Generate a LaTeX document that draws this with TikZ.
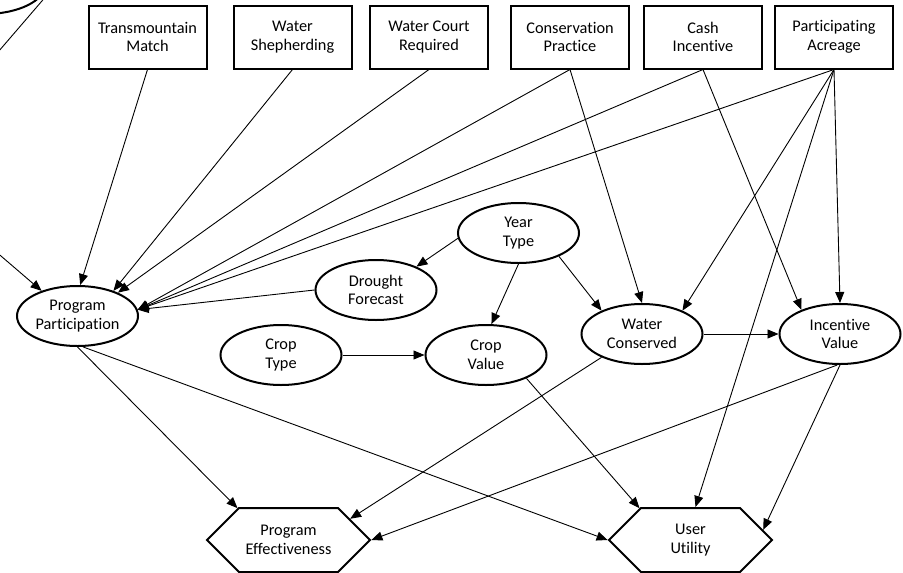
\documentclass[tikz,border=0pt]{standalone}
\usepackage{fontspec}
\setmainfont{Carlito}[Ligatures=NoCommon]
\usetikzlibrary{shapes.geometric,shapes.symbols,arrows.meta}

\begin{document}
\begin{tikzpicture}[x=1pt, y=-1pt,
    nodetext/.style={align=center, font=\fontsize{16.3}{18.5}\selectfont},
    decision/.style={nodetext, draw, line width=2pt, rectangle,
      minimum width=118pt, minimum height=63pt},
    chance/.style={nodetext, draw, line width=2pt, ellipse, inner sep=0pt,
      minimum width=121pt, minimum height=60pt},
    utility/.style={nodetext, draw, line width=2pt, signal,
      signal to=east and west, signal from=nowhere,
      minimum width=163pt, minimum height=64pt},
    link/.style={line width=0.9pt, -{Triangle[length=11pt,width=9pt]}}]
\useasboundingbox (0,0) rectangle (903,573);

%%% decisions %%%
      \node[decision] (tm)  at (147.5,37) {Transmountain\\Match};
      \node[decision] (ws)  at (292.5,37) {Water\\Shepherding};
      \node[decision] (wcr) at (429,37)   {Water Court\\Required};
      \node[decision] (cp)  at (570,37)   {Conservation\\Practice};
      \node[decision] (ci)  at (703,37)   {Cash\\Incentive};
      \node[decision] (pa)  at (834,37)   {Participating\\Acreage};

%%% chance nodes %%%
      \node[chance] (cut)  at (-15,-16)  {};
      \node[chance] (pp)   at (77.5,316) {Program\\Participation};
      \node[chance] (df)   at (376,290)  {Drought\\Forecast};
      \node[chance] (ct)   at (281,355)  {Crop\\Type};
      \node[chance] (cv)   at (486,355)  {Crop\\Value};
      \node[chance] (yt)   at (518.5,233) {Year\\Type};
      \node[chance] (wcon) at (642,334)  {Water\\Conserved};
      \node[chance] (iv)   at (840,334)  {Incentive\\Value};

%%% utilities %%%
      \node[utility] (pe) at (288.5,540) {Program\\Effectiveness};
      \node[utility] (uu) at (690.5,540) {User\\Utility};

%%% links %%%
      \coordinate (offtop)  at (60,-20);
      \coordinate (offleft) at (-20,73);
      \coordinate (offin)   at (-20,238);
      \draw[line width=0.9pt] (offtop) -- (offleft);
      \draw[link] (offin) -- (pp.145);

      \draw[link] (tm.south)  -- (pp.85);
      \draw[link] (ws.south)  -- (pp.35);
      \draw[link] (wcr.south) -- (pp.30);
      \foreach \src in {cp,ci,pa}
        \draw[link] (\src.south) -- (pp.6);
      \draw[link] (df.west) -- (pp.6);

      \draw[link] (yt.185) -- (df.30);
      \draw[link] (yt.south) -- (cv.80);
      \draw[link] (yt.-30) -- (wcon.150);
      \draw[link] (cp.south) -- (wcon.north);
      \draw[link] (pa.south) -- (wcon.30);
      \draw[link] (ci.south) -- (iv.148);
      \draw[link] (pa.south) -- (iv.north);
      \draw[link] (wcon.east) -- (iv.west);
      \draw[link] (ct.east) -- (cv.west);

      \draw[link] (pp.south) -- (pe.148);
      \draw[link] (pp.-80) -- (uu.west);
      \draw[link] (wcon.210) -- (pe.19);
      \draw[link] (iv.-95) -- (pe.east);
      \draw[link] (cv.-30) -- (uu.148);
      \draw[link] (pa.south) -- ([xshift=5pt]uu.north);
      \draw[link] (iv.south) -- (uu.8);

\end{tikzpicture}
\end{document}
